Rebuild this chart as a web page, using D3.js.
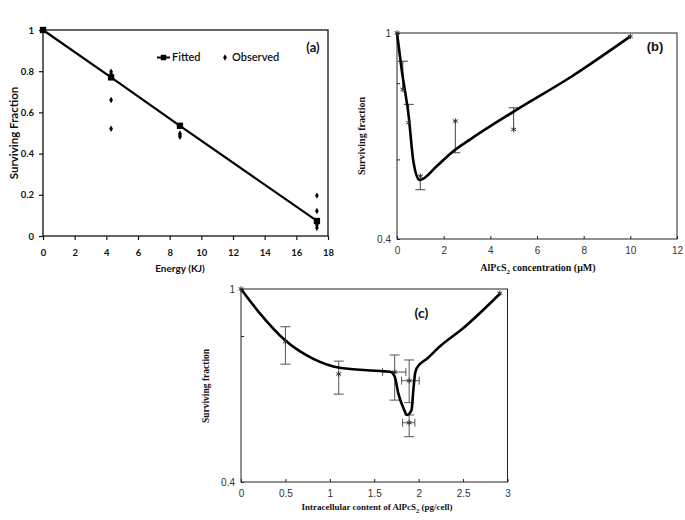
<!DOCTYPE html>
<html>
<head>
<meta charset="utf-8">
<script src="https://cdn.jsdelivr.net/npm/d3@7"></script>
<style>
  html, body { margin: 0; padding: 0; background: #fff; }
  svg { display: block; }
</style>
</head>
<body>
<svg id="chart" width="685" height="520"></svg>
<script>
// ---------- Panel (a) data ----------
const aXTicks = [0, 2, 4, 6, 8, 10, 12, 14, 16, 18];
const aYTicks = [0, 0.2, 0.4, 0.6, 0.8, 1];
const aYTickLabels = ["0", "0.2", "0.4", "0.6", "0.8", "1"];
const aFittedX = [0, 4.3, 8.65, 17.3];
const aFittedY = [1, 0.77, 0.535, 0.073];
const aObsX = [0, 4.3, 4.3, 4.3, 4.3, 8.65, 8.65, 8.65, 17.3, 17.3, 17.3, 17.3];
const aObsY = [1, 0.797, 0.786, 0.66, 0.521, 0.498, 0.49, 0.482, 0.196, 0.121, 0.053, 0.04];
const aLegend = ["Fitted", "Observed"];

// ---------- Panel (b) data ----------
const bXTicks = [0, 2, 4, 6, 8, 10, 12];
const bYTicks = [1, 0.8, 0.57, 0.4];
const bYTickLabels = ["1", "", "", "0.4"];
const bFitX = [0, 0.2, 0.5, 0.71, 0.97, 1.7, 2.35, 3.14, 5, 7.5, 10];
const bFitY = [1, 0.85, 0.691, 0.562, 0.52, 0.553, 0.588, 0.623, 0.705, 0.825, 0.985];
const bObsX = [0, 0.25, 0.5, 1, 2.5, 5, 10];
const bObsY = [1, 0.778, 0.671, 0.529, 0.676, 0.651, 0.985];
const bErrEnd = [null, 0.882, 0.728, 0.498, 0.587, 0.717, null];

// ---------- Panel (c) data ----------
const cXTicks = [0, 0.5, 1, 1.5, 2, 2.5, 3];
const cYTicks = [1, 0.8, 0.4];
const cYTickLabels = ["1", "", "0.4"];
const cFitX = [0, 0.21, 0.5, 0.82, 1.11, 1.42, 1.68, 1.73, 1.77, 1.83, 1.87, 1.92, 1.94, 1.96, 1.98, 2.1, 2.24, 2.5, 2.92];
const cFitY = [1, 0.892, 0.783, 0.717, 0.688, 0.68, 0.675, 0.66, 0.61, 0.567, 0.55, 0.563, 0.619, 0.67, 0.688, 0.72, 0.762, 0.83, 0.98];
const cObsX = [0, 0.5, 1.1, 1.73, 1.893, 1.893, 2.913];
const cObsY = [1, 0.779, 0.668, 0.674, 0.647, 0.53, 0.98];
const cErrLo = [null, 0.70, 0.607, 0.59, 0.583, 0.496, null];
const cErrHi = [null, 0.836, 0.71, 0.731, 0.714, 0.55, null];
const cErrXLo = [null, null, null, 1.594, 1.808, 1.819, null];
const cErrXHi = [null, null, null, 1.856, 2.006, 1.957, null];

const svg = d3.select("#chart");

// ================= Panel (a) =================
(function () {
  const x = d3.scaleLinear().domain([0, 18]).range([43, 328]);
  const y = d3.scaleLinear().domain([0, 1]).range([236, 30]);
  const g = svg.append("g");
  const font = "Lato, 'Open Sans', sans-serif";

  g.append("rect").attr("x", x(0)).attr("y", y(1))
    .attr("width", x(18) - x(0)).attr("height", y(0) - y(1))
    .attr("fill", "none").attr("stroke", "#111").attr("stroke-width", 1.3);

  const xa = g.append("g").attr("transform", `translate(0,${y(0)})`)
    .call(d3.axisBottom(x).tickValues(aXTicks).tickSize(4).tickPadding(9).tickFormat(d3.format("d")));
  const ya = g.append("g").attr("transform", `translate(${x(0)},0)`)
    .call(d3.axisLeft(y).tickValues(aYTicks).tickSize(4).tickPadding(5)
      .tickFormat((d, i) => aYTickLabels[i]));
  [xa, ya].forEach(a => {
    a.select(".domain").remove();
    a.selectAll("line").attr("stroke", "#111").attr("stroke-width", 1.2);
    a.selectAll("text").attr("font-family", font).attr("font-weight", 700)
      .attr("font-size", 9.5).attr("fill", "#111");
  });

  const line = d3.line().x((d, i) => x(aFittedX[i])).y((d, i) => y(aFittedY[i]));
  g.append("path").datum(aFittedY).attr("d", line)
    .attr("fill", "none").attr("stroke", "#000").attr("stroke-width", 2.2);

  g.selectAll(".sq").data(aFittedY).join("path")
    .attr("transform", (d, i) => `translate(${x(aFittedX[i])},${y(d)})`)
    .attr("d", d3.symbol(d3.symbolSquare, 40)).attr("fill", "#000");

  g.selectAll(".ob").data(aObsY).join("path")
    .attr("transform", (d, i) => `translate(${x(aObsX[i])},${y(d)})`)
    .attr("d", d3.symbol(d3.symbolDiamond, 12)).attr("fill", "#000");

  // legend
  const ly = 57.5;
  g.append("line").attr("x1", 157).attr("x2", 170).attr("y1", ly).attr("y2", ly)
    .attr("stroke", "#000").attr("stroke-width", 2);
  g.append("path").attr("transform", `translate(163.5,${ly})`)
    .attr("d", d3.symbol(d3.symbolSquare, 30)).attr("fill", "#000");
  g.append("text").attr("x", 172).attr("y", ly).attr("dy", "0.35em")
    .attr("font-family", font).attr("font-size", 11).attr("font-weight", 600)
    .attr("fill", "#111").text(aLegend[0]);
  g.append("path").attr("transform", `translate(225,${ly})`)
    .attr("d", d3.symbol(d3.symbolDiamond, 12)).attr("fill", "#000");
  g.append("text").attr("x", 232).attr("y", ly).attr("dy", "0.35em")
    .attr("font-family", font).attr("font-size", 11).attr("font-weight", 600)
    .attr("fill", "#111").text(aLegend[1]);

  g.append("text").attr("x", 313).attr("y", 47.5).attr("dy", "0.35em")
    .attr("text-anchor", "middle").attr("font-family", font).attr("font-size", 13)
    .attr("font-weight", 700).attr("fill", "#111").text("(a)");

  g.append("text").attr("x", 180).attr("y", 272).attr("text-anchor", "middle")
    .attr("font-family", font).attr("font-size", 10).attr("font-weight", 700)
    .attr("fill", "#111").text("Energy (KJ)");
  g.append("text").attr("transform", "translate(18,133) rotate(-90)")
    .attr("text-anchor", "middle").attr("font-family", font).attr("font-size", 11.5)
    .attr("font-weight", 700).attr("fill", "#111").text("Surviving Fraction");
})();

// helper for panels b and c
function framedLogPanel(opts) {
  const g = svg.append("g");
  const { x, y } = opts;
  const [x0, x1] = x.range();
  const [y0, y1] = y.range();
  g.append("rect").attr("x", x0).attr("y", y1).attr("width", x1 - x0).attr("height", y0 - y1)
    .attr("fill", "none").attr("stroke", "#222").attr("stroke-width", 1);
  const xa = g.append("g").attr("transform", `translate(0,${y0})`)
    .call(d3.axisBottom(x).tickValues(opts.xTicks).tickSize(-3).tickPadding(8)
      .tickFormat(opts.xFormat));
  const ya = g.append("g").attr("transform", `translate(${x0},0)`)
    .call(d3.axisLeft(y).tickValues(opts.yTicks).tickSize(-3).tickPadding(6)
      .tickFormat((d, i) => opts.yLabels[i]));
  [xa, ya].forEach(a => {
    a.select(".domain").remove();
    a.selectAll("line").attr("stroke", "#222");
    a.selectAll("text").attr("font-family", "'Liberation Sans', Arial, sans-serif")
      .attr("font-size", 10).attr("fill", "#333");
  });
  return g;
}

// ================= Panel (b) =================
(function () {
  const x = d3.scaleLinear().domain([0, 12]).range([397, 677]);
  const y = d3.scaleLog().domain([0.4, 1]).range([239, 33]);
  const g = framedLogPanel({ x, y, xTicks: bXTicks, yTicks: bYTicks, yLabels: bYTickLabels,
    xFormat: d3.format("d") });

  // error bars (one-sided)
  bErrEnd.forEach((e, i) => {
    if (e == null) return;
    const cx = x(bObsX[i]);
    g.append("line").attr("x1", cx).attr("x2", cx).attr("y1", y(bObsY[i])).attr("y2", y(e))
      .attr("stroke", "#444").attr("stroke-width", 1);
    g.append("line").attr("x1", cx - 5).attr("x2", cx + 5).attr("y1", y(e)).attr("y2", y(e))
      .attr("stroke", "#444").attr("stroke-width", 1);
  });

  const line = d3.line().curve(d3.curveMonotoneX)
    .x((d, i) => x(bFitX[i])).y(d => y(d));
  g.append("path").datum(bFitY).attr("d", line)
    .attr("fill", "none").attr("stroke", "#000").attr("stroke-width", 2.6)
    .attr("stroke-linejoin", "round");

  g.selectAll(".ast").data(bObsY).join("path")
    .attr("transform", (d, i) => `translate(${x(bObsX[i])},${y(d)})`)
    .attr("d", d3.symbol(d3.symbolAsterisk, 22))
    .attr("fill", "none").attr("stroke", "#333").attr("stroke-width", 1);

  g.append("text").attr("x", 655).attr("y", 46).attr("dy", "0.35em").attr("text-anchor", "middle")
    .attr("font-family", "'Liberation Sans', Arial, sans-serif").attr("font-weight", 700)
    .attr("font-size", 13).attr("fill", "#111").text("(b)");

  const t = g.append("text").attr("x", 538).attr("y", 271).attr("text-anchor", "middle")
    .attr("font-family", "'Liberation Serif', 'Times New Roman', serif").attr("font-weight", 700)
    .attr("font-size", 10).attr("fill", "#111");
  t.append("tspan").text("AlPcS");
  t.append("tspan").attr("font-size", 7).attr("dy", 2.5).text("2");
  t.append("tspan").attr("dy", -2.5).text(" concentration (\u03bcM)");

  g.append("text").attr("transform", "translate(365,136) rotate(-90)")
    .attr("text-anchor", "middle").attr("font-family", "'Liberation Serif', 'Times New Roman', serif")
    .attr("font-weight", 700).attr("font-size", 10).attr("fill", "#111").text("Surviving fraction");
})();

// ================= Panel (c) =================
(function () {
  const x = d3.scaleLinear().domain([0, 3]).range([241, 507.5]);
  const y = d3.scaleLog().domain([0.4, 1]).range([482, 289]);
  const g = framedLogPanel({ x, y, xTicks: cXTicks, yTicks: cYTicks, yLabels: cYTickLabels,
    xFormat: d => String(d) });

  const errCol = "#555";
  cObsY.forEach((v, i) => {
    const cx = x(cObsX[i]);
    if (cErrLo[i] != null) {
      const a = y(cErrHi[i]), b = y(cErrLo[i]);
      g.append("line").attr("x1", cx).attr("x2", cx).attr("y1", a).attr("y2", b)
        .attr("stroke", errCol).attr("stroke-width", 1);
      [a, b].forEach(yy => g.append("line").attr("x1", cx - 5).attr("x2", cx + 5)
        .attr("y1", yy).attr("y2", yy).attr("stroke", errCol).attr("stroke-width", 1));
    }
    if (cErrXLo[i] != null) {
      const cy = y(v), a = x(cErrXLo[i]), b = x(cErrXHi[i]);
      g.append("line").attr("x1", a).attr("x2", b).attr("y1", cy).attr("y2", cy)
        .attr("stroke", errCol).attr("stroke-width", 1);
      [a, b].forEach(xx => g.append("line").attr("x1", xx).attr("x2", xx)
        .attr("y1", cy - 4).attr("y2", cy + 4).attr("stroke", errCol).attr("stroke-width", 1));
    }
  });

  const line = d3.line().curve(d3.curveMonotoneX)
    .x((d, i) => x(cFitX[i])).y(d => y(d));
  g.append("path").datum(cFitY).attr("d", line)
    .attr("fill", "none").attr("stroke", "#000").attr("stroke-width", 2.6)
    .attr("stroke-linejoin", "round");

  g.selectAll(".ast").data(cObsY).join("path")
    .attr("transform", (d, i) => `translate(${x(cObsX[i])},${y(d)})`)
    .attr("d", d3.symbol(d3.symbolAsterisk, 22))
    .attr("fill", "none").attr("stroke", "#333").attr("stroke-width", 1);

  g.append("text").attr("x", 421.5).attr("y", 313).attr("dy", "0.35em").attr("text-anchor", "middle")
    .attr("font-family", "Lato, 'Open Sans', sans-serif").attr("font-weight", 700)
    .attr("font-size", 14).attr("fill", "#111").text("(c)");

  const t = g.append("text").attr("x", 377).attr("y", 510).attr("text-anchor", "middle")
    .attr("font-family", "'Liberation Serif', 'Times New Roman', serif").attr("font-weight", 700)
    .attr("font-size", 9).attr("fill", "#111");
  t.append("tspan").text("Intracellular content of AlPcS");
  t.append("tspan").attr("font-size", 6.5).attr("dy", 2.5).text("2");
  t.append("tspan").attr("dy", -2.5).text(" (pg/cell)");

  g.append("text").attr("transform", "translate(209,386) rotate(-90)")
    .attr("text-anchor", "middle").attr("font-family", "'Liberation Serif', 'Times New Roman', serif")
    .attr("font-weight", 700).attr("font-size", 9.5).attr("fill", "#111").text("Surviving fraction");
})();
</script>
</body>
</html>
